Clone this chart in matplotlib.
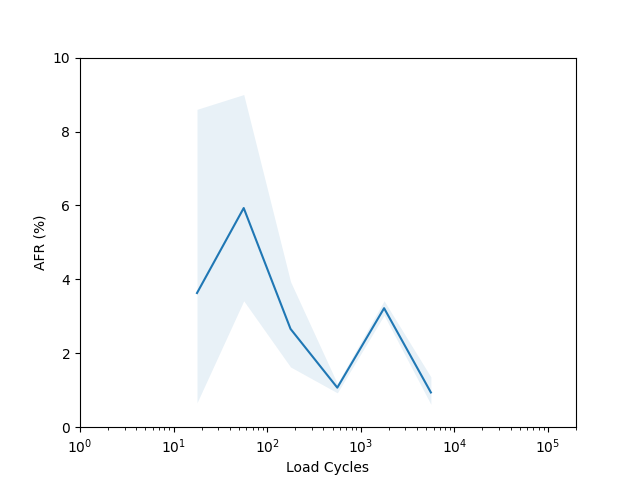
import matplotlib
matplotlib.use("Agg")
import matplotlib.pyplot as plt

# half-decade bin centres
load_cycles = [17.8, 56.2, 177.8, 562.3, 1778.3, 5623.4]
afr = [3.63, 5.93, 2.66, 1.07, 3.22, 0.94]
afr_low = [0.66, 3.42, 1.63, 0.93, 3.03, 0.62]
afr_high = [8.6, 9.0, 3.94, 1.18, 3.42, 1.36]

fig, ax = plt.subplots(figsize=(6.4, 4.8), dpi=100)

ax.plot(load_cycles, afr, color="tab:blue")
ax.fill_between(load_cycles, afr_low, afr_high, color="tab:blue", alpha=0.1, linewidth=0)

ax.set_xscale("log")
ax.set_xlim(1, 2e5)
ax.set_ylim(0, 10)
ax.set_xlabel("Load Cycles")
ax.set_ylabel("AFR (%)")

plt.savefig("out.png")
